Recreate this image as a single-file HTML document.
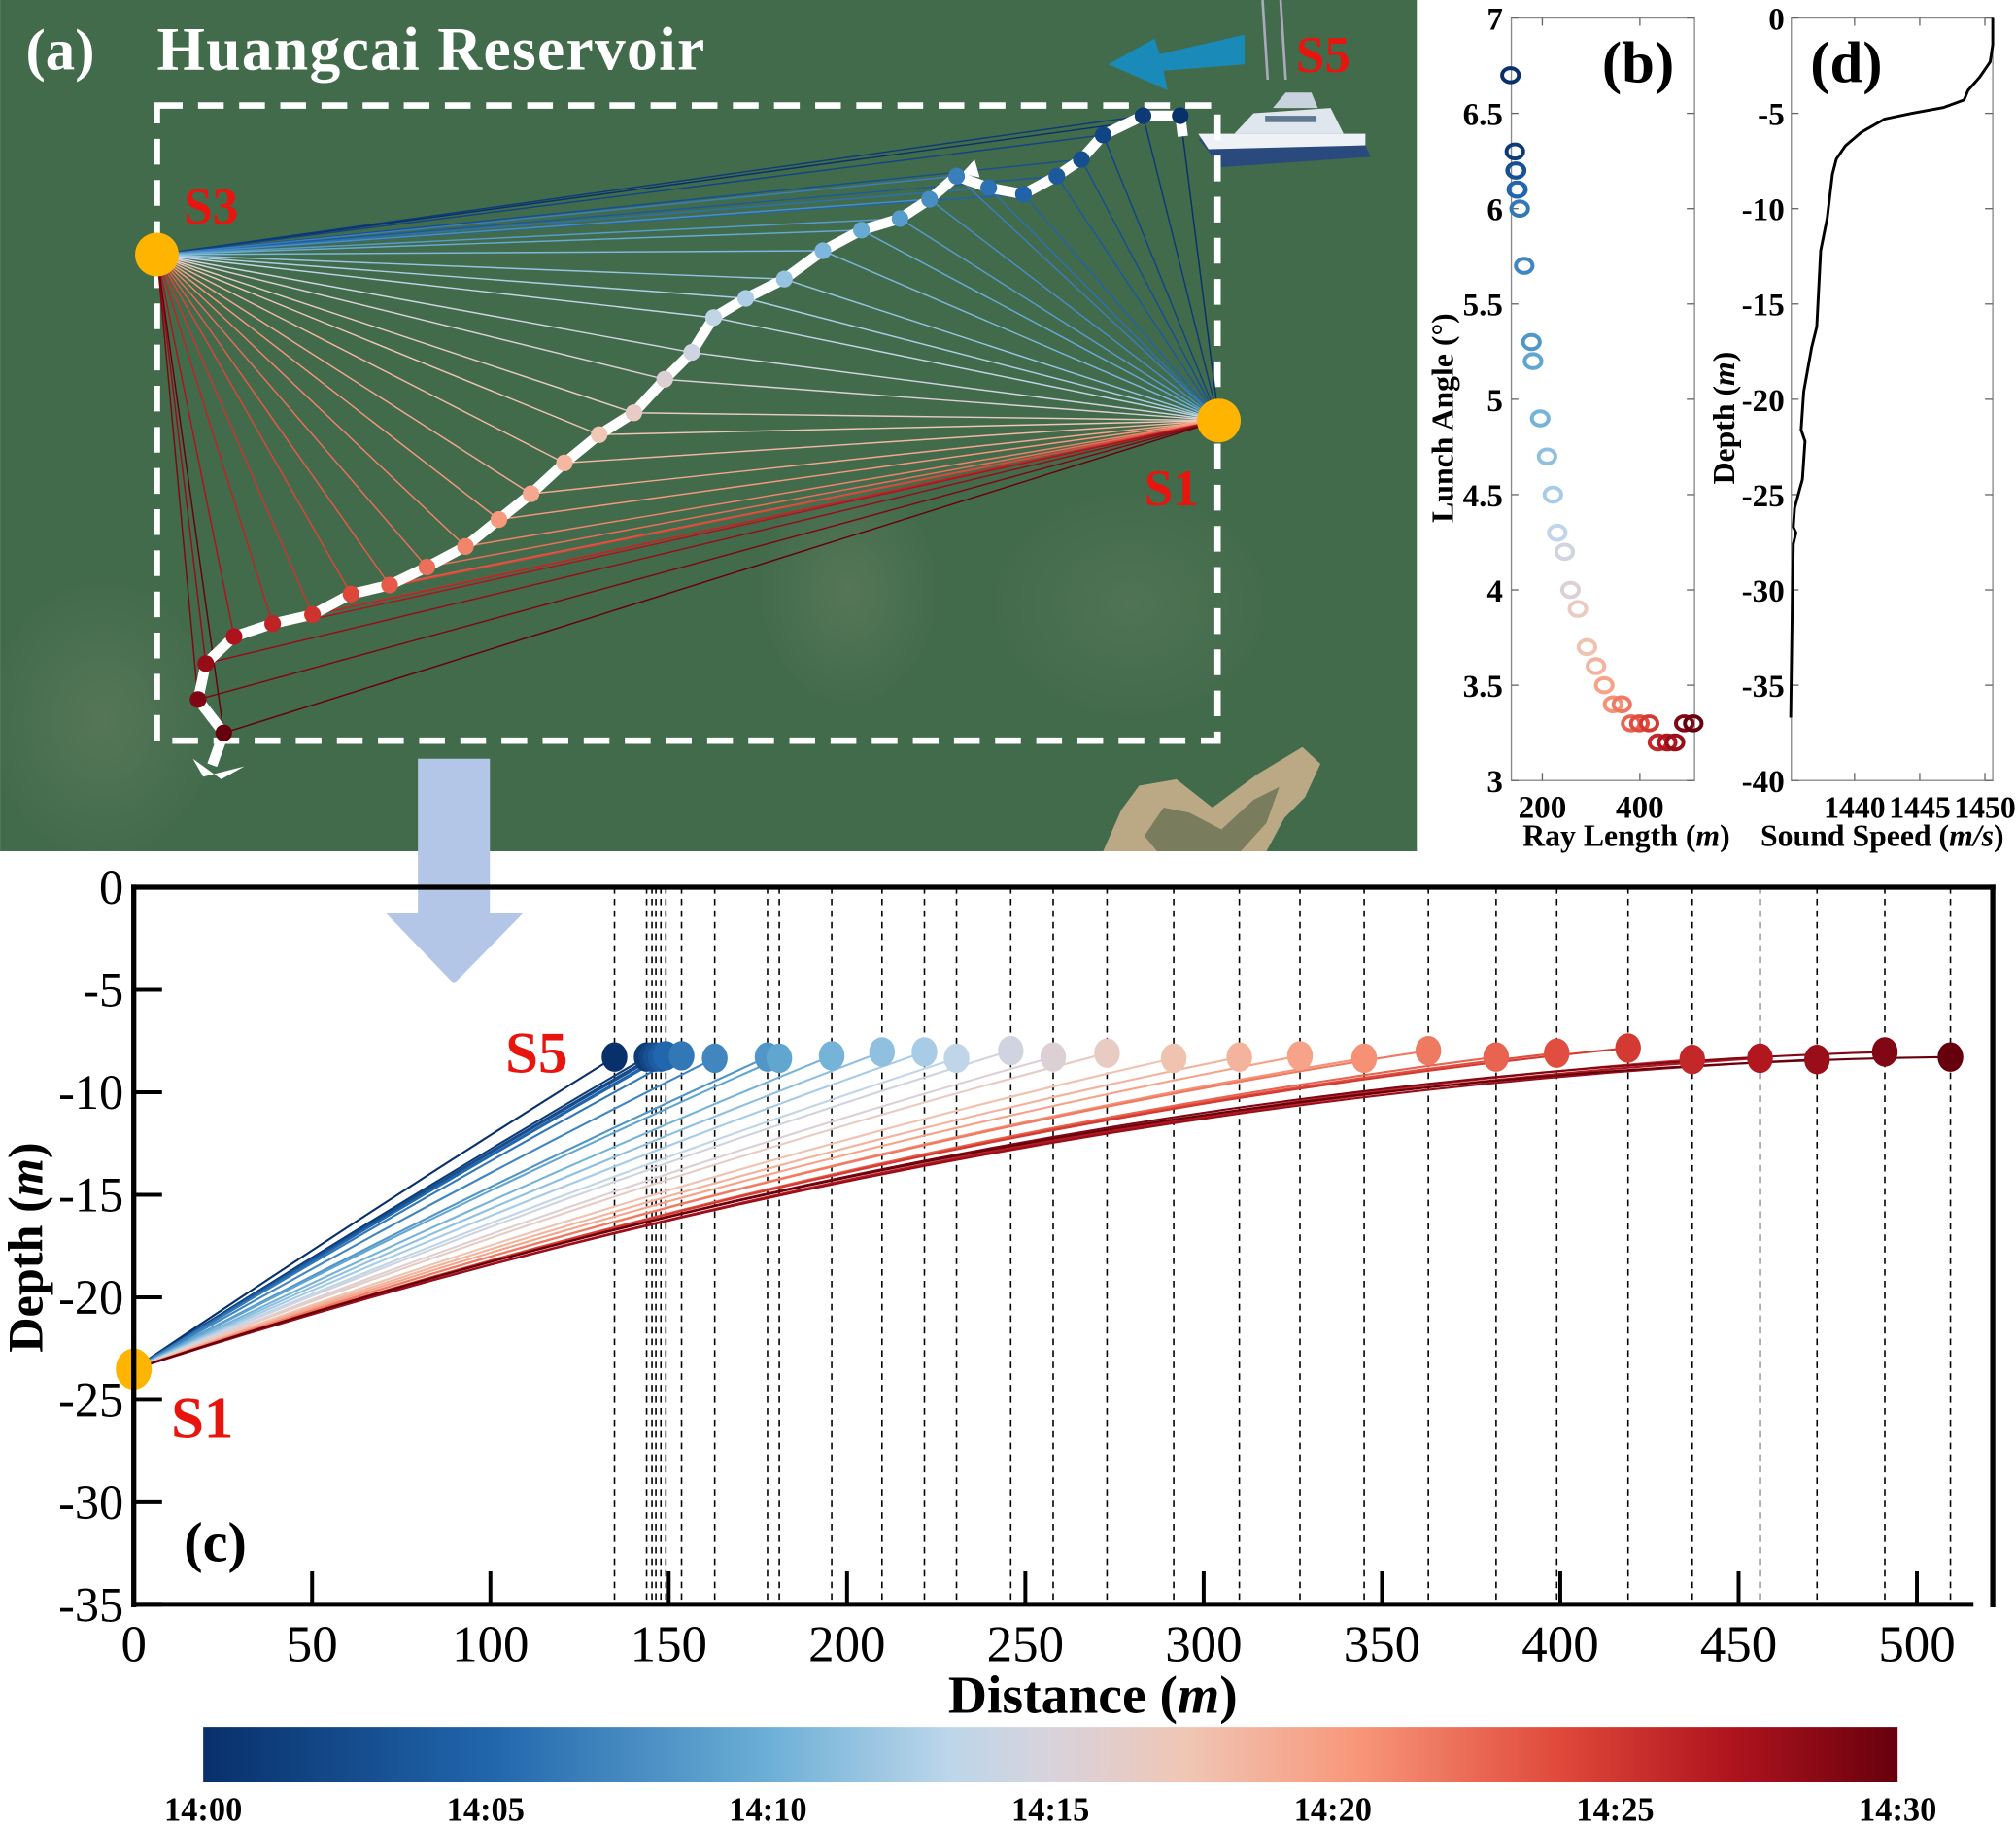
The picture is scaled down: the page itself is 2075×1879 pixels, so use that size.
<!DOCTYPE html>
<html><head><meta charset="utf-8"><style>
html,body{margin:0;padding:0;background:#fff;}
svg{display:block;}
text{font-family:"Liberation Serif",serif;}
</style></head><body>
<svg id="fig" width="2075" height="1879" viewBox="0 0 1568 1420" xmlns="http://www.w3.org/2000/svg">
<defs>
<linearGradient id="cmap" x1="0" x2="1" y1="0" y2="0"></linearGradient>
<radialGradient id="haze" cx="0.5" cy="0.5" r="0.5"><stop offset="0" stop-color="#7a8c6e" stop-opacity="0.35"/><stop offset="1" stop-color="#7a8c6e" stop-opacity="0"/></radialGradient>
</defs>
<g id="pa">
<rect x="0" y="0" width="1102" height="662" fill="#426b4c"/>
<ellipse cx="80" cy="560" rx="90" ry="110" fill="url(#haze)"/>
<ellipse cx="660" cy="460" rx="70" ry="90" fill="url(#haze)"/>
<ellipse cx="880" cy="470" rx="110" ry="90" fill="url(#haze)" opacity="0.7"/>
<polygon points="858,662 872,630 886,611 915,606 943,628 978,602 1013,581 1027,594 1015,620 999,636 985,662" fill="#bba985"/>
<polygon points="890,650 905,628 925,632 950,645 975,622 995,612 985,640 965,662 900,662" fill="#5d6a4c" opacity="0.7"/>
<g stroke="#aab" stroke-width="2"><line x1="982" y1="0" x2="986" y2="62"/><line x1="996" y1="0" x2="1000" y2="62"/></g>
<polygon points="968,27 968,50 905,55 908,70 862,50 898,30 902,42" fill="#1a8bb8"/>
<g>
<path d="M932,108 L1060,108 L1066,122 L950,130 Z" fill="#2a4a7e"/>
<path d="M932,104 L1062,104 L1062,113 L940,116 Z" fill="#eef2f6"/>
<path d="M960,104 L975,88 L1035,84 L1045,104 Z" fill="#dfe6ee"/>
<path d="M990,84 L1000,72 L1020,72 L1025,84 Z" fill="#c9d3de"/>
<rect x="984" y="90" width="40" height="5" fill="#607890"/>
</g>
<rect x="122" y="82" width="825" height="494" fill="none" stroke="#fff" stroke-width="5" stroke-dasharray="20,12"/>
<g id="fan"></g>
<polyline id="track" fill="none" stroke="#fff" stroke-width="8" stroke-linejoin="round"/>
<polygon points="150,590 172,606 190,596 158,604" fill="#fff"/>
<polygon points="748,135 758,124 762,138" fill="#fff"/>
<g id="mapdots"></g>
<circle cx="122" cy="198" r="17" fill="#ffb400"/>
<circle cx="948" cy="327" r="17" fill="#ffb400"/>
<text x="20" y="54" font-size="46" font-weight="bold" fill="#fff">(a)</text>
<text x="122" y="54" font-size="48" font-weight="bold" fill="#fff" textLength="426">Huangcai Reservoir</text>
<text x="143" y="174" font-size="40" font-weight="bold" fill="#e8140e">S3</text>
<text x="890" y="393" font-size="40" font-weight="bold" fill="#e8140e">S1</text>
<text x="1008" y="56" font-size="40" font-weight="bold" fill="#e8140e">S5</text>
</g>
<polygon points="325,590 381,590 381,710 407,710 353,765 300,710 325,710" fill="#b4c6e7"/>
<g id="pb"></g>
<g id="pd"></g>
<g id="pc"></g>
<g id="cb"></g>
</svg>
<script>
const NS="http://www.w3.org/2000/svg";
const rayDistance=[134.8,143.8,145.3,146.4,147.8,149.2,153.6,162.9,177.7,181,195.7,209.8,221.7,230.7,245.9,257.8,272.9,291.6,310,327,345,363,382,399,419,437,456,472,491,509.4];
const receiverDepth=[-8.28,-8.28,-8.28,-8.28,-8.28,-8.22,-8.22,-8.34,-8.28,-8.34,-8.22,-8.03,-8.03,-8.34,-7.97,-8.28,-8.09,-8.34,-8.28,-8.22,-8.34,-7.97,-8.28,-8.09,-7.84,-8.4,-8.34,-8.4,-8.03,-8.28];
const launchAngle=[6.7,6.3,6.2,6.2,6.1,6.1,6.0,5.7,5.3,5.2,4.9,4.7,4.5,4.3,4.2,4.0,3.9,3.7,3.6,3.5,3.4,3.4,3.3,3.3,3.3,3.2,3.2,3.2,3.3,3.3];
const sourceDepth=-23.5;
const xTicksC=[0,50,100,150,200,250,300,350,400,450,500];
const yTicksC=[0,-5,-10,-15,-20,-25,-30,-35];
const xTicksB=[200,400];
const yTicksB=[3,3.5,4,4.5,5,5.5,6,6.5,7];
const ssSpeed=[1450.6,1450.6,1450.4,1449.6,1448.7,1448.4,1446.8,1444.4,1442.3,1440.5,1439.3,1438.6,1438.3,1437.9,1437.4,1437.1,1436.7,1436.1,1435.9,1436.2,1436.0,1435.4,1435.3,1435.5,1435.3,1435.2,1435.1];
const ssDepth=[0,-1.4,-2.3,-3.1,-3.8,-4.3,-4.7,-5.0,-5.3,-6.0,-6.7,-7.4,-8.2,-10.5,-12.2,-16.2,-17.3,-19.6,-21.6,-22.2,-24.2,-25.7,-26.7,-27.0,-27.6,-31.8,-36.7];
const xTicksD=[1440,1445,1450];
const yTicksD=[0,-5,-10,-15,-20,-25,-30,-35,-40];
const cbLabels=["14:00","14:05","14:10","14:15","14:20","14:25","14:30"];
const trackPts=[[918,90],[889,90],[858,105],[841,124],[822,137],[796,151],[769,146],[744,137],[723,155],[700,170],[670,179],[640,195],[610,217],[580,232],[555,247],[538,274],[517,295],[493,321],[466,338],[439,360],[413,384],[388,404],[362,425],[332,441],[303,455],[273,462],[243,478],[212,485],[182,495],[160,516],[154,544],[174,570]];
const stops=[[0,"#08306b"],[0.17,"#2166ac"],[0.33,"#6aaed6"],[0.44,"#bcd6ea"],[0.5,"#d8d3dc"],[0.58,"#f0c6b5"],[0.68,"#f8977a"],[0.8,"#e0493a"],[0.9,"#b0141e"],[1,"#67000d"]];
function hx(c){return [1,3,5].map(i=>parseInt(c.substr(i,2),16));}
function cmap(t){for(let i=1;i<stops.length;i++){if(t<=stops[i][0]){const a=stops[i-1],b=stops[i];const f=(t-a[0])/(b[0]-a[0]);const A=hx(a[1]),B=hx(b[1]);return "rgb("+A.map((v,k)=>Math.round(v+(B[k]-v)*f)).join(",")+")";}}return stops[stops.length-1][1];}
function mk(tag,attrs,parent){const e=document.createElementNS(NS,tag);for(const k in attrs)e.setAttribute(k,attrs[k]);parent.appendChild(e);return e;}
function txt(s,attrs,parent){const e=mk("text",attrs,parent);e.textContent=s;return e;}
const grad=document.getElementById("cmap");
stops.forEach(s=>mk("stop",{offset:s[0],"stop-color":s[1]},grad));
const fan=document.getElementById("fan"),md=document.getElementById("mapdots");
const S3=[122,198],S1=[948,327];
document.getElementById("track").setAttribute("points",[[920,106]].concat(trackPts).concat([[165,595]]).map(p=>p.join(",")).join(" "));
trackPts.forEach((p,i)=>{const c=cmap(i/(trackPts.length-1));
 const l1=mk("line",{x1:p[0],y1:p[1],x2:S3[0],y2:S3[1],stroke:c,"stroke-width":1.1},fan);
 
 
 const l2=mk("line",{x1:p[0],y1:p[1],x2:S1[0],y2:S1[1],stroke:c,"stroke-width":1.1},fan);
 
 
 const d=mk("circle",{cx:p[0],cy:p[1],r:6.5,fill:c},md);
 
 
});
const pc=document.getElementById("pc");
const cx=v=>104+v*(1491-104)/500, cy=v=>690-v*(1248-690)/35;
const n=rayDistance.length;
for(let i=0;i<n;i++){const X=rayDistance[i];
 const dl=mk("line",{x1:cx(X),y1:690,x2:cx(X),y2:1248,stroke:"#000","stroke-width":1.2,"stroke-dasharray":"5,4"},pc);
 
 }
for(let i=0;i<n;i++){const X=rayDistance[i],ze=receiverDepth[i],t=Math.tan(launchAngle[i]*Math.PI/180);
 const ctrlZ=sourceDepth+t*X/2;
 const p=mk("path",{d:`M${cx(0)},${cy(sourceDepth)} Q${cx(X/2)},${cy(ctrlZ)} ${cx(X)},${cy(ze)}`,fill:"none",stroke:cmap(i/(n-1)),"stroke-width":1.6},pc);
 
 }
for(let i=0;i<n;i++){const e=mk("ellipse",{cx:cx(rayDistance[i]),cy:cy(receiverDepth[i]),rx:10,ry:11.5,fill:cmap(i/(n-1))},pc);
 
 }
const src=mk("ellipse",{cx:cx(0),cy:cy(sourceDepth),rx:14,ry:16,fill:"#ffb400"},pc);


mk("line",{x1:102,y1:690,x2:1552,y2:690,stroke:"#000","stroke-width":4},pc);
mk("line",{x1:104,y1:688,x2:104,y2:1250,stroke:"#000","stroke-width":4},pc);
mk("line",{x1:1550,y1:688,x2:1550,y2:1250,stroke:"#000","stroke-width":4},pc);
mk("line",{x1:104,y1:1248,x2:1535,y2:1248,stroke:"#000","stroke-width":3},pc);
xTicksC.forEach(v=>{mk("line",{x1:cx(v),y1:1248,x2:cx(v),y2:1222,stroke:"#000","stroke-width":3},pc);
 const t=txt(String(v),{x:cx(v),y:1292,"font-size":40,"text-anchor":"middle"},pc);
 
 });
yTicksC.forEach(v=>{mk("line",{x1:104,y1:cy(v),x2:126,y2:cy(v),stroke:"#000","stroke-width":3},pc);
 const t=txt(String(v),{x:96,y:cy(v)+13,"font-size":38,"text-anchor":"end"},pc);
 
 });
const xt=txt("",{x:850,y:1332,"font-size":42,"font-weight":"bold","text-anchor":"middle"},pc);
xt.innerHTML='Distance (<tspan font-style="italic">m</tspan>)';


const yt=txt("",{x:0,y:0,"font-size":38,"font-weight":"bold","text-anchor":"middle",transform:"translate(33,970) rotate(-90)"},pc);
yt.innerHTML='Depth (<tspan font-style="italic">m</tspan>)';


const s5=txt("S5",{x:393,y:834,"font-size":46,"font-weight":"bold",fill:"#e8140e"},pc);


const s1=txt("S1",{x:133,y:1118,"font-size":46,"font-weight":"bold",fill:"#e8140e"},pc);


const lc=txt("(c)",{x:143,y:1214,"font-size":44,"font-weight":"bold"},pc);


const pb=document.getElementById("pb");
const bx=v=>1199.6+(v-200)*(1275.5-1199.6)/200, by=v=>607-(v-3)*(607-14)/4;
mk("rect",{x:1175.5,y:14,width:1318-1175.5,height:593,fill:"#fff",stroke:"#888","stroke-width":1},pb);
xTicksB.forEach(v=>{mk("line",{x1:bx(v),y1:607,x2:bx(v),y2:601,stroke:"#666"},pb);mk("line",{x1:bx(v),y1:14,x2:bx(v),y2:20,stroke:"#666"},pb);
 const t=txt(String(v),{x:bx(v),y:636,"font-size":25,"font-weight":"bold","text-anchor":"middle"},pb);
 
 });
yTicksB.forEach(v=>{mk("line",{x1:1175.5,y1:by(v),x2:1181,y2:by(v),stroke:"#666"},pb);mk("line",{x1:1318,y1:by(v),x2:1312,y2:by(v),stroke:"#666"},pb);
 const t=txt(String(v),{x:1169,y:by(v)+9,"font-size":25,"font-weight":"bold","text-anchor":"end"},pb);
 
 });
for(let i=0;i<n;i++){const c=mk("ellipse",{cx:bx(rayDistance[i]),cy:by(launchAngle[i]),rx:6.5,ry:5.5,fill:"none",stroke:cmap(i/(n-1)),"stroke-width":3},pb);
 
 }
const bxt=txt("",{x:1265,y:658,"font-size":24,"font-weight":"bold","text-anchor":"middle"},pb);
bxt.innerHTML='Ray Length (<tspan font-style="italic">m</tspan>)';


const byt=txt("Lunch Angle (°)",{x:0,y:0,"font-size":24,"font-weight":"bold","text-anchor":"middle",transform:"translate(1130,325) rotate(-90)"},pb);


const lb=txt("(b)",{x:1246,y:64,"font-size":46,"font-weight":"bold"},pb);


const pd=document.getElementById("pd");
const dx=v=>1442.5+(v-1440)*(1493.2-1442.5)/5, dy=v=>14-v*(607-14)/40;
mk("rect",{x:1393.3,y:14,width:1550-1393.3,height:593,fill:"#fff",stroke:"#888","stroke-width":1},pd);
xTicksD.forEach(v=>{mk("line",{x1:dx(v),y1:607,x2:dx(v),y2:601,stroke:"#666"},pd);mk("line",{x1:dx(v),y1:14,x2:dx(v),y2:20,stroke:"#666"},pd);
 const t=txt(String(v),{x:dx(v),y:636,"font-size":24,"font-weight":"bold","text-anchor":"middle"},pd);
 
 });
yTicksD.forEach(v=>{mk("line",{x1:1393.3,y1:dy(v),x2:1399,y2:dy(v),stroke:"#666"},pd);mk("line",{x1:1550,y1:dy(v),x2:1544,y2:dy(v),stroke:"#666"},pd);
 const t=txt(String(v),{x:1388,y:dy(v)+9,"font-size":25,"font-weight":"bold","text-anchor":"end"},pd);
 
 });
const prof=mk("polyline",{points:ssSpeed.map((s,i)=>dx(s)+","+dy(ssDepth[i])).join(" "),fill:"none",stroke:"#000","stroke-width":2.2},pd);


const dxt=txt("",{x:1464,y:658,"font-size":24,"font-weight":"bold","text-anchor":"middle"},pd);
dxt.innerHTML='Sound Speed (<tspan font-style="italic">m/s</tspan>)';


const dyt=txt("",{x:0,y:0,"font-size":24,"font-weight":"bold","text-anchor":"middle",transform:"translate(1349,325) rotate(-90)"},pd);
dyt.innerHTML='Depth (<tspan font-style="italic">m</tspan>)';


const ld=txt("(d)",{x:1408,y:64,"font-size":46,"font-weight":"bold"},pd);


const cb=document.getElementById("cb");
mk("rect",{x:158,y:1343,width:1318,height:43,fill:"url(#cmap)"},cb);
cbLabels.forEach((s,i)=>{const t=txt(s,{x:158+i*1318/(cbLabels.length-1),y:1416,"font-size":26,"font-weight":"bold","text-anchor":"middle"},cb);
 
 });
</script>
</body></html>
